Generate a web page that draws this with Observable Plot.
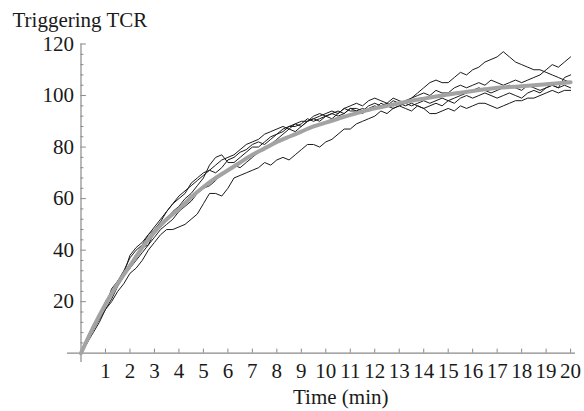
<!DOCTYPE html>
<html>
<head>
<meta charset="utf-8">
<script src="https://cdn.jsdelivr.net/npm/d3@7"></script>
<script src="https://cdn.jsdelivr.net/npm/@observablehq/plot@0.6"></script>
<style>
  html, body { margin: 0; padding: 0; background: #fff; }
  svg text { font-family: "Liberation Serif", "DejaVu Serif", serif !important; }
</style>
</head>
<body>
<div id="chart"></div>
<script>
// ---- Data ----
const title = "Triggering TCR";
const xLabel = "Time (min)";
const xTicks = [1,2,3,4,5,6,7,8,9,10,11,12,13,14,15,16,17,18,19,20];
const yTicks = [20,40,60,80,100,120];
const yMinorTicks = [4,8,12,16,24,28,32,36,44,48,52,56,64,68,72,76,84,88,92,96,104,108,112,116];

// sample times of the stochastic runs (every 0.25 min)
const runTimes = d3.range(0, 20.001, 0.25);
const runA = [0,4,8,12,17, 20,24,27,31, 33,36,40,43, 46,48,48,49, 50,52,54,58, 62,62,61,64, 68,69,70,71, 72,74,73,75, 76,75,77,79, 81,81,80,82, 83,85,87,87, 89,90,91,92, 94,93,95,96, 95,94,96,95, 93,93,94,95, 94,96,95,96, 97,97,96,95, 96,97,98,98, 99,99,100,101, 102,101,102,102];
const runB = [0,5,10,14,19, 24,28,32,37, 40,42,46,49, 52,55,58,60, 62,66,68,70, 71,73,75,76, 77,79,81,82, 83,85,86,87, 88,87,89,90, 90,92,93,92, 93,94,93,95, 95,94,96,97, 96,97,96,97, 98,99,101,103, 105,106,105,105, 107,109,108,110, 111,113,114,115, 117,115,113,112, 111,110,110,109, 108,107,106,105];
const runC = [0,6,11,15,20, 24,28,30,33, 38,41,42,47, 50,52,55,57, 60,62,65,68, 73,76,77,74, 74,76,78,80, 80,82,84,85, 86,88,89,88, 90,91,92,93, 94,93,95,96, 97,96,98,99, 98,97,99,98, 97,99,100,101, 100,102,101,101, 103,104,103,104, 105,104,106,105, 104,105,106,105, 106,107,108,110, 112,111,113,115];
const runD = [0,5,9,14,18, 25,28,31,38, 41,43,46,48, 51,55,58,61, 63,65,67,69, 71,70,72,75, 76,78,79,81, 82,81,83,85, 87,88,88,89, 91,90,91,92, 91,93,95,94, 94,95,94,95, 97,96,95,96, 97,96,97,98, 97,98,99,98, 99,100,101,102, 103,102,101,102, 103,104,103,102, 104,103,102,103, 104,103,104,103];
const runE = [0,4,9,13,17, 21,26,30,33, 36,39,42,45, 48,50,52,55, 57,59,62,64, 65,67,70,71, 73,72,74,76, 78,80,81,83, 85,87,86,88, 90,91,90,92, 93,92,93,95, 94,93,95,96, 95,96,98,97, 96,97,96,95, 96,97,96,98, 97,99,100,99, 100,101,100,99, 100,101,100,99, 101,102,101,103, 104,103,107,108];

// smooth mean curve (grey)
const meanTimes = [0,0.5,1,1.5,2,2.5,3,3.5,4,4.5,5,5.5,6,6.5,7,7.5,8,8.5,9,9.5,10,10.5,11,11.5,12,12.5,13,13.5,14,14.5,15,15.5,16,16.5,17,17.5,18,18.5,19,19.5,20];
const meanValues = [0,10,19,27,34,41,47,52,56,60.5,64.5,68,71,74,77,79.5,82,84,86,88,89.5,91,92.5,93.8,95,96,97,98,98.8,99.6,100.4,101.1,101.8,102.4,103,103.3,103.6,104,104.4,104.8,105.2];

// ---- Build tables ----
const runs = {A: runA, B: runB, C: runC, D: runD, E: runE};
const runData = [];
for (const [name, vals] of Object.entries(runs)) {
  vals.forEach((v, i) => runData.push({run: name, t: runTimes[i], v}));
}
const meanData = meanTimes.map((t, i) => ({t, v: meanValues[i]}));

const FONT = "'Liberation Serif', 'DejaVu Serif', serif";
const AXIS = "#8a8a8a";
const INK = "#1a1a1a";

const chart = Plot.plot({
  width: 584,
  height: 411,
  marginLeft: 80.5,
  marginRight: 9,
  marginTop: 43.5,
  marginBottom: 49,
  style: {fontFamily: FONT, fontSize: "21px", color: INK, background: "#fff"},
  x: {domain: [0, 20.2], axis: null},
  y: {domain: [-3.6, 120], axis: null},
  marks: [
    // axis lines (crossing at origin)
    Plot.ruleY([0], {x1: -0.55, x2: 20.2, stroke: AXIS, strokeWidth: 1.2}),
    Plot.ruleX([0], {y1: -3.6, y2: 120, stroke: AXIS, strokeWidth: 1.2}),
    // ticks
    Plot.ruleY(yTicks, {x1: 0, x2: 0.22, stroke: AXIS, strokeWidth: 1}),
    Plot.ruleY(yMinorTicks, {x1: 0, x2: 0.12, stroke: AXIS, strokeWidth: 1}),
    Plot.ruleX(xTicks, {y1: 0, y2: 1.6, stroke: AXIS, strokeWidth: 1}),
    // tick labels
    Plot.axisY({ticks: yTicks, tickSize: 0, tickPadding: 7, fontSize: 21, fontFamily: FONT, fill: INK, label: null}),
    Plot.axisX({ticks: xTicks, tickSize: 0, tickPadding: 0.5, fontSize: 21, fontFamily: FONT, fill: INK, label: null, anchor: "bottom", tickFormat: d => String(d)}),
    // stochastic runs
    Plot.line(runData, {x: "t", y: "v", z: "run", stroke: INK, strokeWidth: 1, curve: "linear"}),
    // mean curve
    Plot.line(meanData, {x: "t", y: "v", stroke: "#a3a3a3", strokeWidth: 4, curve: "natural"}),
    // titles
    Plot.text([title], {frameAnchor: "top-left", textAnchor: "start", dx: -68.5, dy: -32, fontSize: 21, fontFamily: FONT, fill: INK}),
    Plot.text([xLabel], {frameAnchor: "bottom", dx: 12.5, dy: 41, fontSize: 21, fontFamily: FONT, fill: INK})
  ]
});
document.getElementById("chart").appendChild(chart);
</script>
</body>
</html>
